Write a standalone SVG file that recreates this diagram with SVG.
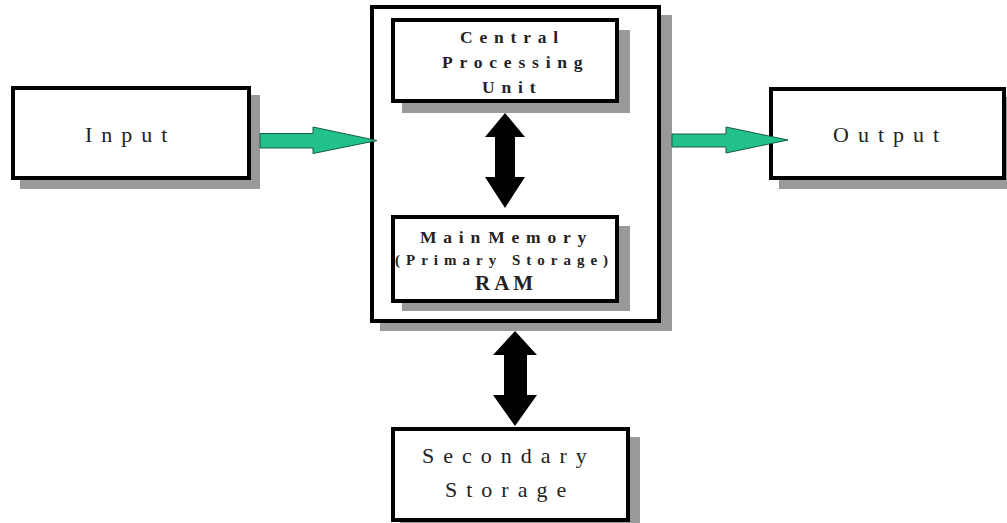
<svg xmlns="http://www.w3.org/2000/svg" width="1007" height="523" viewBox="0 0 1007 523">
<style>
.box{fill:#fff;stroke:#000;stroke-width:4}
.sh{fill:#999}
text{font-family:'Liberation Serif','Times New Roman','DejaVu Serif',serif;fill:#222}
.reg{font-size:22px;letter-spacing:9px}
.b{font-weight:bold;font-size:17.5px;letter-spacing:6.8px}
.green{fill:#22C08C;stroke:#185c44;stroke-width:1}
.blk{fill:#000}
</style>
<rect width="1007" height="523" fill="#fff"/>
<g id="cpu-container">
<rect class="sh" x="380" y="15" width="292" height="316"/>
<rect class="box" x="372" y="7" width="287" height="314"/>
</g>
<g id="input">
<rect class="sh" x="20" y="95" width="240" height="94"/>
<rect class="box" x="13" y="88" width="236" height="90"/>
<text class="reg" x="85" y="142">Input</text>
</g>
<g id="output">
<rect class="sh" x="779" y="97" width="240" height="92"/>
<rect class="box" x="771" y="89" width="233" height="89"/>
<text class="reg" x="833" y="142">Output</text>
</g>
<g id="cpu">
<rect class="sh" x="402" y="30" width="228" height="83"/>
<rect class="box" x="393" y="20" width="224" height="81"/>
<text class="b" x="460" y="43">Central</text>
<text class="b" x="442" y="68">Processing</text>
<text class="b" x="482" y="93">Unit</text>
</g>
<g id="ram">
<rect class="sh" x="402" y="226" width="228" height="85"/>
<rect class="box" x="393" y="217" width="224" height="84"/>
<text class="b" x="420" y="243" word-spacing="-10">Main Memory</text>
<text class="b" x="395" y="265" style="font-size:15px;letter-spacing:6px">(Primary Storage)</text>
<text class="b" x="475" y="290" style="font-size:21px;letter-spacing:4px">RAM</text>
</g>
<g id="secondary">
<rect class="sh" x="400" y="437" width="240" height="93"/>
<rect class="box" x="393" y="429" width="235" height="91"/>
<text class="reg" x="422" y="463">Secondary</text>
<text class="reg" x="445" y="497">Storage</text>
</g>
<g id="connectors">
<polygon class="green" points="260,133.5 313,133.5 313,127 377,140.5 313,153.5 313,148 260,148"/>
<polygon class="green" points="672,134 726,134 726,127 788,140 726,153 726,147 672,147"/>
<polygon class="blk" points="505,113 525,137 515,137 515,177 525,177 505,208 485,177 495,177 495,137 485,137"/>
<polygon class="blk" points="515,331 537,355 527,355 527,395 537,395 515,426 493,395 504,395 504,355 493,355"/>
</g>
</svg>
